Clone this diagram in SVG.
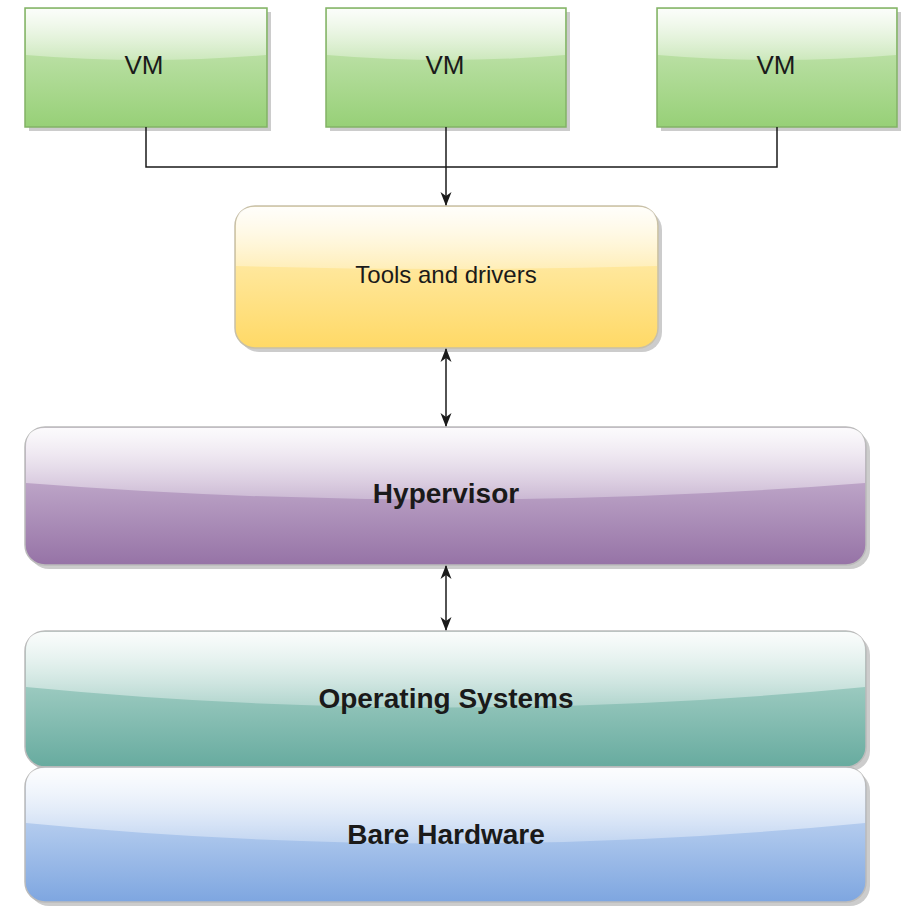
<svg xmlns="http://www.w3.org/2000/svg" width="908" height="907" viewBox="0 0 908 907">
<style>
.lbl{font-family:"Liberation Sans",Arial,sans-serif;fill:#1a1a1a;text-anchor:middle;dominant-baseline:central}
.n{font-size:26px}
.s{font-size:24px}
.b{font-size:28px;font-weight:bold}
.sh{fill:#000;opacity:0.2}
.conn{fill:none;stroke:#1a1a1a;stroke-width:1.5}
.gloss{fill:url(#glass)}
</style>
<defs>
<linearGradient id="gGreen" x1="0" y1="0" x2="0" y2="1"><stop offset="0" stop-color="#cfe9bf"/><stop offset="1" stop-color="#97d077"/></linearGradient>
<linearGradient id="gYellow" x1="0" y1="0" x2="0" y2="1"><stop offset="0" stop-color="#fff2c4"/><stop offset="1" stop-color="#ffd966"/></linearGradient>
<linearGradient id="gPurple" x1="0" y1="0" x2="0" y2="1"><stop offset="0" stop-color="#d6c5dd"/><stop offset="1" stop-color="#9673a6"/></linearGradient>
<linearGradient id="gTeal" x1="0" y1="0" x2="0" y2="1"><stop offset="0" stop-color="#bfdfd6"/><stop offset="1" stop-color="#67ab9f"/></linearGradient>
<linearGradient id="gBlue" x1="0" y1="0" x2="0" y2="1"><stop offset="0" stop-color="#d9e6f8"/><stop offset="1" stop-color="#7ea6e0"/></linearGradient>
<linearGradient id="glass" x1="0" y1="0" x2="0" y2="1"><stop offset="0" stop-color="#fff" stop-opacity="0.92"/><stop offset="1" stop-color="#fff" stop-opacity="0.3"/></linearGradient>
<marker id="ah" viewBox="0 0 14 12" refX="13" refY="6" markerWidth="14" markerHeight="12" markerUnits="userSpaceOnUse" orient="auto-start-reverse"><path d="M0,0.5 L14,6 L0,11.5 L4,6 Z" fill="#1a1a1a"/></marker>
</defs>

<g id="vm1">
<rect class="sh" x="29" y="12" width="242" height="119"/>
<rect x="25" y="8" width="242" height="119" fill="url(#gGreen)" stroke="#82b366" stroke-width="1.5"/>
<path class="gloss" d="M26,9 H266 V55 Q146,65 26,55 Z"/>
<text class="lbl n" x="144" y="65">VM</text>
</g>
<g id="vm2">
<rect class="sh" x="330" y="12" width="240" height="119"/>
<rect x="326" y="8" width="240" height="119" fill="url(#gGreen)" stroke="#82b366" stroke-width="1.5"/>
<path class="gloss" d="M327,9 H565 V55 Q446,65 327,55 Z"/>
<text class="lbl n" x="445" y="65">VM</text>
</g>
<g id="vm3">
<rect class="sh" x="661" y="12" width="240" height="119"/>
<rect x="657" y="8" width="240" height="119" fill="url(#gGreen)" stroke="#82b366" stroke-width="1.5"/>
<path class="gloss" d="M658,9 H896 V55 Q777,65 658,55 Z"/>
<text class="lbl n" x="776" y="65">VM</text>
</g>

<g id="tools">
<rect class="sh" x="239" y="210" width="423" height="142" rx="20"/>
<rect x="235" y="206" width="423" height="142" rx="20" fill="url(#gYellow)" stroke="#c8c0a8" stroke-width="1.5"/>
<path class="gloss" d="M255,207 H638 Q657,207 657,226 V266 Q446,272 236,266 V226 Q236,207 255,207 Z"/>
<text class="lbl s" x="446" y="274">Tools and drivers</text>
</g>

<g id="hypervisor">
<rect class="sh" x="29" y="431" width="841" height="138" rx="20"/>
<rect x="25" y="427" width="841" height="138" rx="20" fill="url(#gPurple)" stroke="#bbb" stroke-width="1.5"/>
<path class="gloss" d="M45,428 H846 Q865,428 865,447 V483 Q446,516 26,483 V447 Q26,428 45,428 Z"/>
<text class="lbl b" x="446" y="493">Hypervisor</text>
</g>

<g id="os">
<rect class="sh" x="29" y="635" width="841" height="136" rx="20"/>
<rect x="25" y="631" width="841" height="136" rx="20" fill="url(#gTeal)" stroke="#bbb" stroke-width="1.5"/>
<path class="gloss" d="M45,632 H846 Q865,632 865,651 V687 Q446,728 26,687 V651 Q26,632 45,632 Z"/>
<text class="lbl b" x="446" y="698">Operating Systems</text>
</g>

<g id="hardware">
<rect class="sh" x="29" y="771" width="841" height="135" rx="20"/>
<rect x="25" y="767" width="841" height="135" rx="20" fill="url(#gBlue)" stroke="#bbb" stroke-width="1.5"/>
<path class="gloss" d="M45,768 H846 Q865,768 865,787 V823 Q446,864 26,823 V787 Q26,768 45,768 Z"/>
<text class="lbl b" x="446" y="834">Bare Hardware</text>
</g>

<g id="connectors">
<polyline class="conn" points="146,127 146,167 777,167 777,127"/>
<line class="conn" x1="446" y1="127" x2="446" y2="205" marker-end="url(#ah)"/>
<line class="conn" x1="446" y1="349" x2="446" y2="426" marker-start="url(#ah)" marker-end="url(#ah)"/>
<line class="conn" x1="446" y1="566" x2="446" y2="630" marker-start="url(#ah)" marker-end="url(#ah)"/>
</g>
</svg>
